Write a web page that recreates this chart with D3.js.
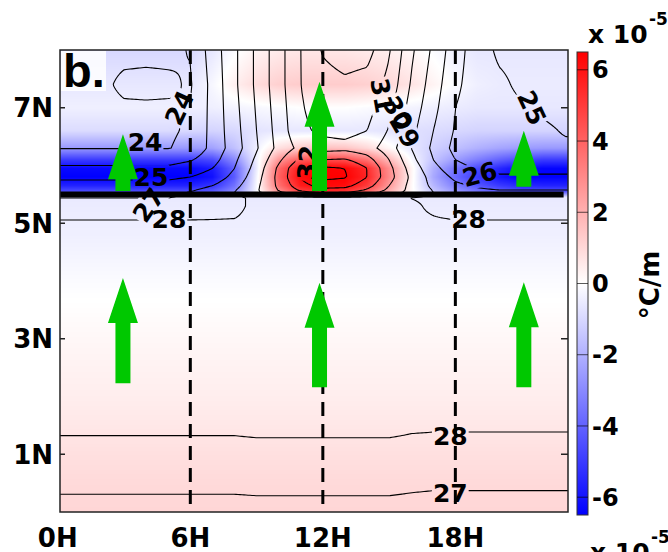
<!DOCTYPE html>
<html>
<head>
<meta charset="utf-8">
<script src="https://cdn.jsdelivr.net/npm/d3@7"></script>
<style>
  body { margin: 0; background: #fff; }
  svg { display: block; }
  text { font-family: "DejaVu Sans", sans-serif; font-weight: bold; fill: #000; }
</style>
</head>
<body>
<svg id="chart" width="668" height="552"></svg>
<script>
// grid: hour columns, latitude rows (north to south)
var hours = [0,1,2,3,4,5,6,7,8,9,10,11,12,13,14,15,16,17,18,19,20,21,22,23];
var lats = [8.0, 7.4, 7.0, 6.6, 6.3, 6.1, 5.95, 5.8, 5.65, 5.55, 5.45, 5.3, 5.1, 4.8, 4.4, 4.0, 3.0, 2.0, 1.5, 1.0, 0.5, 0.0];

// temperature (contours), degC
var sstRows = [
  [23.8,23.8,23.8,23.8,23.8,23.8,24.05,25.45,26.8,28.2,29.6,31.0,32.1,32.5,32.4,31.1,29.2,27.8,26.4,25.5,24.8,24.7,24.7,24.7],
  [23.8,23.8,23.85,24.15,24.2,24.15,23.9,25.3,26.8,28.2,29.6,31.0,31.6,31.8,31.6,30.7,28.9,27.5,26.2,25.5,25.2,24.8,24.7,24.7],
  [23.8,23.8,23.8,23.9,23.9,23.9,24.02,25.3,26.7,28.1,29.5,30.9,31.5,31.6,31.4,30.3,28.6,27.3,26.0,25.5,25.3,25.1,24.9,24.8],
  [23.8,23.8,23.8,23.85,23.85,23.9,24.1,25.3,26.6,28.0,29.4,30.8,31.2,31.3,31.0,29.9,28.3,27.0,25.9,25.4,25.3,25.2,25.1,24.95],
  [23.97,23.97,23.97,23.97,23.97,23.97,24.2,25.3,26.5,27.9,29.3,30.3,30.6,30.7,30.4,29.5,28.0,26.8,25.7,25.3,25.2,25.15,25.1,25.1],
  [24.6,24.6,24.6,24.6,24.6,24.6,24.9,25.6,26.8,28.2,29.8,31.2,32.0,32.1,31.4,30.0,28.3,27.0,26.0,25.5,25.4,25.4,25.4,25.4],
  [25.2,25.2,25.2,25.2,25.2,25.2,25.5,26.0,27.0,28.4,30.2,32.0,33.2,33.0,32.0,30.3,28.6,27.3,26.4,25.9,25.8,25.8,25.8,25.8],
  [25.8,25.8,25.8,25.8,25.8,25.8,26.0,26.4,27.3,28.6,30.3,32.1,33.3,33.1,32.0,30.4,28.8,27.6,26.8,26.3,26.1,26.1,26.1,26.1],
  [26.4,26.4,26.4,26.4,26.4,26.4,26.6,27.0,27.7,28.8,30.2,31.6,32.4,32.3,31.4,30.0,28.7,27.8,27.2,26.9,26.7,26.7,26.7,26.7],
  [26.9,26.9,26.9,26.9,26.9,26.9,27.0,27.4,28.0,28.9,30.0,31.0,31.5,31.4,30.7,29.7,28.7,28.0,27.5,27.2,27.1,27.1,27.1,27.1],
  [26.95,26.95,26.95,26.95,26.95,26.95,27.1,27.4,27.8,28.2,28.5,28.7,28.8,28.8,28.7,28.5,27.98,27.9,27.6,27.4,27.3,27.3,27.3,27.3],
  [27.5,27.5,27.5,27.5,27.5,27.5,27.55,27.65,27.8,28.2,28.4,28.5,28.5,28.5,28.5,28.4,28.1,27.9,27.6,27.55,27.5,27.5,27.5,27.5],
  [27.95,27.95,27.95,27.95,27.95,27.95,27.95,27.96,27.98,28.2,28.3,28.35,28.35,28.35,28.35,28.3,28.1,28.02,27.95,27.95,27.95,27.95,27.95,27.95],
  [28.3,28.3,28.3,28.3,28.3,28.3,28.3,28.3,28.3,28.3,28.3,28.3,28.3,28.3,28.3,28.3,28.3,28.3,28.3,28.3,28.3,28.3,28.3,28.3],
  [28.4,28.4,28.4,28.4,28.4,28.4,28.4,28.4,28.4,28.4,28.4,28.4,28.4,28.4,28.4,28.4,28.4,28.4,28.4,28.4,28.4,28.4,28.4,28.4],
  [28.4,28.4,28.4,28.4,28.4,28.4,28.4,28.4,28.4,28.4,28.4,28.4,28.4,28.4,28.4,28.4,28.4,28.4,28.4,28.4,28.4,28.4,28.4,28.4],
  [28.4,28.4,28.4,28.4,28.4,28.4,28.4,28.4,28.4,28.4,28.4,28.4,28.4,28.4,28.4,28.4,28.4,28.4,28.4,28.4,28.4,28.4,28.4,28.4],
  [28.3,28.3,28.3,28.3,28.3,28.3,28.3,28.3,28.3,28.3,28.3,28.3,28.3,28.3,28.3,28.3,28.3,28.3,28.3,28.3,28.3,28.3,28.3,28.3],
  [28.11,28.11,28.11,28.11,28.11,28.11,28.11,28.11,28.11,28.15,28.15,28.15,28.15,28.15,28.15,28.15,28.08,28.06,28.06,28.06,28.06,28.06,28.06,28.06],
  [27.8,27.8,27.8,27.8,27.8,27.8,27.8,27.8,27.8,27.8,27.8,27.8,27.8,27.8,27.8,27.8,27.8,27.8,27.8,27.8,27.8,27.8,27.8,27.8],
  [27.25,27.25,27.25,27.25,27.25,27.25,27.25,27.25,27.25,27.31,27.31,27.31,27.31,27.31,27.31,27.31,27.2,27.14,27.14,27.14,27.14,27.14,27.14,27.14],
  [26.6,26.6,26.6,26.6,26.6,26.6,26.6,26.6,26.6,26.6,26.6,26.6,26.6,26.6,26.6,26.6,26.6,26.6,26.6,26.6,26.6,26.6,26.6,26.6]
];

// temperature gradient (shading), x 1e-5 degC/m
var gradRows = [
  [-1.0,-1.0,-1.0,-1.0,-1.0,-1.0,-1.0,-0.6,-0.1,0.3,0.5,0.6,0.6,0.6,0.5,0.4,0.2,-0.1,-0.4,-0.6,-0.6,-0.6,-0.6,-0.6],
  [-0.6,-0.6,-0.6,-0.6,-0.6,-0.6,-0.6,-0.2,0.4,0.9,1.2,1.3,1.3,1.3,1.2,1.0,0.7,0.3,-0.1,-0.4,-0.5,-0.5,-0.5,-0.5],
  [-0.4,-0.4,-0.4,-0.4,-0.4,-0.4,-0.4,-0.4,-0.3,-0.2,-0.1,0.0,0.0,0.0,-0.1,-0.2,-0.3,-0.4,-0.5,-0.6,-0.6,-0.6,-0.6,-0.6],
  [-0.9,-0.9,-0.9,-0.9,-0.9,-0.9,-1.0,-1.1,-1.0,-0.7,-0.6,-0.6,-0.6,-0.6,-0.6,-0.7,-0.8,-0.9,-1.0,-1.1,-1.1,-1.1,-1.1,-1.1],
  [-2.6,-2.6,-2.6,-2.6,-2.6,-2.6,-2.6,-2.4,-1.6,-0.4,0.8,1.3,1.6,1.5,1.0,0.2,-0.6,-1.2,-1.6,-2.0,-2.3,-2.5,-2.6,-2.6],
  [-5.0,-5.0,-5.0,-5.0,-5.0,-5.0,-5.0,-4.6,-3.0,-0.4,2.6,4.2,4.6,4.5,3.6,1.8,-0.1,-1.5,-2.5,-3.3,-4.0,-4.6,-5.0,-5.0],
  [-6.3,-6.3,-6.3,-6.3,-6.3,-6.3,-6.3,-5.8,-4.0,-0.5,3.8,5.9,6.5,6.4,5.4,2.9,0.3,-2.0,-3.5,-4.6,-5.5,-6.2,-6.4,-6.4],
  [-6.5,-6.5,-6.5,-6.5,-6.5,-6.5,-6.5,-6.1,-4.2,-0.3,4.0,6.2,6.5,6.5,5.6,3.0,0.3,-2.2,-3.8,-5.0,-6.0,-6.5,-6.5,-6.5],
  [-5.6,-5.6,-5.6,-5.6,-5.6,-5.6,-5.6,-5.2,-3.6,-0.2,3.6,5.8,6.3,6.2,5.0,2.6,0.2,-1.8,-3.2,-4.3,-5.0,-5.5,-5.6,-5.6],
  [-4.5,-4.5,-4.5,-4.5,-4.5,-4.5,-4.5,-4.2,-3.0,-0.2,2.8,4.8,5.4,5.2,4.0,2.0,0.2,-1.4,-2.6,-3.5,-4.1,-4.5,-4.5,-4.5],
  [-0.55,-0.55,-0.55,-0.55,-0.55,-0.55,-0.55,-0.55,-0.55,-0.55,-0.55,-0.55,-0.55,-0.55,-0.55,-0.55,-0.55,-0.55,-0.55,-0.55,-0.55,-0.55,-0.55,-0.55],
  [-0.5,-0.5,-0.5,-0.5,-0.5,-0.5,-0.5,-0.5,-0.5,-0.5,-0.5,-0.5,-0.5,-0.5,-0.5,-0.5,-0.5,-0.5,-0.5,-0.5,-0.5,-0.5,-0.5,-0.5],
  [-0.45,-0.45,-0.45,-0.45,-0.45,-0.45,-0.45,-0.45,-0.45,-0.45,-0.45,-0.45,-0.45,-0.45,-0.45,-0.45,-0.45,-0.45,-0.45,-0.45,-0.45,-0.45,-0.45,-0.45],
  [-0.4,-0.4,-0.4,-0.4,-0.4,-0.4,-0.4,-0.4,-0.4,-0.4,-0.4,-0.4,-0.4,-0.4,-0.4,-0.4,-0.4,-0.4,-0.4,-0.4,-0.4,-0.4,-0.4,-0.4],
  [-0.25,-0.25,-0.25,-0.25,-0.25,-0.25,-0.25,-0.25,-0.25,-0.25,-0.25,-0.25,-0.25,-0.25,-0.25,-0.25,-0.25,-0.25,-0.25,-0.25,-0.25,-0.25,-0.25,-0.25],
  [-0.1,-0.1,-0.1,-0.1,-0.1,-0.1,-0.1,-0.1,-0.1,-0.1,-0.1,-0.1,-0.1,-0.1,-0.1,-0.1,-0.1,-0.1,-0.1,-0.1,-0.1,-0.1,-0.1,-0.1],
  [0.2,0.2,0.2,0.2,0.2,0.2,0.2,0.2,0.2,0.2,0.2,0.2,0.2,0.2,0.2,0.2,0.2,0.2,0.2,0.2,0.2,0.2,0.2,0.2],
  [0.45,0.45,0.45,0.45,0.45,0.45,0.45,0.45,0.45,0.45,0.45,0.45,0.45,0.45,0.45,0.45,0.45,0.45,0.45,0.45,0.45,0.45,0.45,0.45],
  [0.6,0.6,0.6,0.6,0.6,0.6,0.6,0.6,0.6,0.6,0.6,0.6,0.6,0.6,0.6,0.6,0.6,0.6,0.6,0.6,0.6,0.6,0.6,0.6],
  [0.8,0.8,0.8,0.8,0.8,0.8,0.8,0.8,0.8,0.8,0.8,0.8,0.8,0.8,0.8,0.8,0.8,0.8,0.8,0.8,0.8,0.8,0.8,0.8],
  [0.95,0.95,0.95,0.95,0.95,0.95,0.95,0.95,0.95,0.95,0.95,0.95,0.95,0.95,0.95,0.95,0.95,0.95,0.95,0.95,0.95,0.95,0.95,0.95],
  [1.05,1.05,1.05,1.05,1.05,1.05,1.05,1.05,1.05,1.05,1.05,1.05,1.05,1.05,1.05,1.05,1.05,1.05,1.05,1.05,1.05,1.05,1.05,1.05]
];

var hourExtent = [0.1, 23.1];
var hourTicks = [0, 6, 12, 18];
var hourLabels = ['0H', '6H', '12H', '18H'];
var latTicks = [7, 5, 3, 1];
var latLabels = ['7N', '5N', '3N', '1N'];
var cbTicks = [6, 4, 2, 0, -2, -4, -6];
var dashHours = [6, 12, 18];
var coastLat = 5.5;
var coastHours = [0.1, 22.9];
var contourLevels = [24, 25, 26, 27, 28, 29, 30, 31, 32, 33];

// arrows (hour, base lat, length in deg)
var arrowHours = [2.95, 11.85, 21.1];
var upperBase = [5.56, 5.56, 5.63];
var upperLen = [0.98, 1.89, 0.97];
var lowerBase = [2.23, 2.16, 2.16];
var lowerLen = [1.82, 1.81, 1.82];

var contourLabels = [
  {t: '24', h: 5.5, lat: 7.0, r: -65},
  {t: '24', h: 3.95, lat: 6.41, r: 0},
  {t: '25', h: 4.22, lat: 5.8, r: 0},
  {t: '27', h: 4.1, lat: 5.32, r: -55},
  {t: '28', h: 5.03, lat: 5.07, r: 0},
  {t: '32', h: 11.3, lat: 6.05, r: -85},
  {t: '31', h: 14.68, lat: 7.21, r: 80},
  {t: '30', h: 15.4, lat: 6.91, r: 60},
  {t: '29', h: 15.72, lat: 6.6, r: 60},
  {t: '25', h: 21.47, lat: 7.0, r: 65},
  {t: '26', h: 19.1, lat: 5.85, r: -15},
  {t: '28', h: 18.6, lat: 5.07, r: 0},
  {t: '28', h: 17.77, lat: 1.32, r: 0},
  {t: '27', h: 17.77, lat: 0.33, r: 0}
];

var svg = d3.select('#chart');
var x0 = 60, x1 = 568, y0 = 50, y1 = 512;
var x = d3.scaleLinear().domain(hourExtent).range([x0, x1]);
var y = d3.scaleLinear().domain([0, 8]).range([y1, y0]);
var color = d3.scaleLinear().domain([-6.5, 0, 6.5]).range(['#0000ff', '#ffffff', '#ff0000']).clamp(true);

function locate(arr, v) {
  var i = d3.bisectRight(arr, v) - 1;
  i = Math.max(0, Math.min(arr.length - 2, i));
  var t = (v - arr[i]) / (arr[i + 1] - arr[i]);
  return [i, Math.max(0, Math.min(1, t))];
}
function sampler(rows) {
  var asc = lats.map(function(d, k) { return {lat: d, row: rows[k]}; }).reverse();
  var la = asc.map(function(d) { return d.lat; });
  return function(h, lat) {
    var a = locate(hours, h), b = locate(la, lat);
    var r0 = asc[b[0]].row, r1 = asc[b[0] + 1].row;
    var v0 = r0[a[0]] * (1 - a[1]) + r0[a[0] + 1] * a[1];
    var v1 = r1[a[0]] * (1 - a[1]) + r1[a[0] + 1] * a[1];
    return v0 * (1 - b[1]) + v1 * b[1];
  };
}
var gradAt = sampler(gradRows);
var sstAt = sampler(sstRows);

var defs = svg.append('defs');
defs.append('clipPath').attr('id', 'plotclip')
  .append('rect').attr('x', x0).attr('y', y0).attr('width', x1 - x0).attr('height', y1 - y0);

// shading
var W = x1 - x0, H = y1 - y0;
var cv = document.createElement('canvas');
cv.width = W; cv.height = H;
var ctx = cv.getContext('2d');
var img = ctx.createImageData(W, H);
for (var py = 0; py < H; py++) {
  var lat = y.invert(y0 + py + 0.5);
  for (var px = 0; px < W; px++) {
    var c = d3.rgb(color(gradAt(x.invert(x0 + px + 0.5), lat)));
    var k = (py * W + px) * 4;
    img.data[k] = c.r; img.data[k + 1] = c.g; img.data[k + 2] = c.b; img.data[k + 3] = 255;
  }
}
ctx.putImageData(img, 0, 0);
svg.append('image').attr('x', x0).attr('y', y0).attr('width', W).attr('height', H)
  .attr('href', cv.toDataURL());

// contour labels first (to build the gap mask)
var mask = defs.append('mask').attr('id', 'lblmask').attr('maskUnits', 'userSpaceOnUse')
  .attr('x', 0).attr('y', 0).attr('width', 668).attr('height', 552);
mask.append('rect').attr('width', 668).attr('height', 552).attr('fill', '#fff');

var labelG = svg.append('g');
var contourG = svg.insert('g', function() { return labelG.node(); }).attr('clip-path', 'url(#plotclip)')
  .append('g').attr('mask', 'url(#lblmask)');

contourLabels.forEach(function(d) {
  var tr = 'translate(' + x(d.h) + ',' + y(d.lat) + ') rotate(' + d.r + ')';
  var t = labelG.append('text').attr('transform', tr)
    .attr('text-anchor', 'middle').attr('dy', '0.36em')
    .style('font-size', '25px').text(d.t);
  var bb = t.node().getBBox();
  mask.append('rect').attr('transform', tr)
    .attr('x', bb.x - 1).attr('y', bb.y + 2).attr('width', bb.width + 2).attr('height', bb.height - 4)
    .attr('fill', '#000');
});

// contours
var nx = 255, ny = 232, step = 2;
var vals = new Array(nx * ny);
for (var j = 0; j < ny; j++) {
  for (var i = 0; i < nx; i++) {
    vals[j * nx + i] = sstAt(x.invert(x0 + i * step), y.invert(y0 + j * step));
  }
}
var cons = d3.contours().size([nx, ny]).thresholds(contourLevels)(vals);
var proj = d3.geoTransform({point: function(px, py) {
  this.stream.point(x0 + (px - 0.5) * step, y0 + (py - 0.5) * step);
}});
contourG.selectAll('path').data(cons).join('path')
  .attr('d', d3.geoPath(proj))
  .attr('fill', 'none').attr('stroke', '#000').attr('stroke-width', 1.1);

// dashed hour lines
svg.append('g').selectAll('line').data(dashHours).join('line')
  .attr('x1', function(d) { return x(d); }).attr('x2', function(d) { return x(d); })
  .attr('y1', y0).attr('y2', y1)
  .attr('stroke', '#000').attr('stroke-width', 3).attr('stroke-dasharray', '14,8');

// coastline
svg.append('line')
  .attr('x1', x(coastHours[0])).attr('x2', x(coastHours[1]))
  .attr('y1', y(coastLat)).attr('y2', y(coastLat))
  .attr('stroke', '#000').attr('stroke-width', 6);

// arrows
function arrowPath(h, lat0, len) {
  var cx = x(h), yb = y(lat0), yt = y(lat0 + len);
  var hl = 45, hw = 15, sw = 7.5;
  return 'M' + (cx - sw) + ',' + yb + 'L' + (cx - sw) + ',' + (yt + hl) + 'L' + (cx - hw) + ',' + (yt + hl) +
    'L' + cx + ',' + yt + 'L' + (cx + hw) + ',' + (yt + hl) + 'L' + (cx + sw) + ',' + (yt + hl) +
    'L' + (cx + sw) + ',' + yb + 'Z';
}
var arrows = [];
arrowHours.forEach(function(h, k) {
  arrows.push({h: h, b: upperBase[k], l: upperLen[k]});
  arrows.push({h: h, b: lowerBase[k], l: lowerLen[k]});
});
svg.append('g').selectAll('path').data(arrows).join('path')
  .attr('d', function(d) { return arrowPath(d.h, d.b, d.l); })
  .attr('fill', '#00c800');

// panel letter
svg.append('rect').attr('x', x0 + 1).attr('y', y0 + 1).attr('width', 45).attr('height', 40)
  .attr('fill', '#fff').attr('opacity', 0.85);
svg.append('text').attr('x', 63).attr('y', 87)
  .style('font-family', '"Liberation Sans", Arial, sans-serif').style('font-size', '47px').text('b.');

// frame and ticks
svg.append('rect').attr('x', x0).attr('y', y0).attr('width', x1 - x0).attr('height', y1 - y0)
  .attr('fill', 'none').attr('stroke', '#222').attr('stroke-width', 1.5);
var tk = svg.append('g').attr('stroke', '#222').attr('stroke-width', 1.5);
latTicks.forEach(function(d) {
  tk.append('line').attr('x1', x0).attr('x2', x0 + 5).attr('y1', y(d)).attr('y2', y(d));
  tk.append('line').attr('x1', x1 - 7).attr('x2', x1).attr('y1', y(d)).attr('y2', y(d));
});

// axis labels
svg.append('g').selectAll('text').data(latTicks).join('text')
  .attr('x', 53).attr('y', function(d) { return y(d); }).attr('dy', '0.36em')
  .attr('text-anchor', 'end').style('font-size', '26px')
  .text(function(d, k) { return latLabels[k]; });
svg.append('g').selectAll('text').data(hourTicks).join('text')
  .attr('x', function(d) { return x(d); }).attr('y', 547)
  .attr('text-anchor', 'middle').style('font-size', '26px')
  .text(function(d, k) { return hourLabels[k]; });

// colorbar
var cbX = 577, cbW = 11;
var cbY = d3.scaleLinear().domain([-6.5, 6.5]).range([515, 52]);
var grad = defs.append('linearGradient').attr('id', 'cbgrad')
  .attr('x1', 0).attr('x2', 0).attr('y1', 0).attr('y2', 1);
[6.5, 0, -6.5].forEach(function(v, k) {
  grad.append('stop').attr('offset', k / 2).attr('stop-color', color(v));
});
svg.append('rect').attr('x', cbX).attr('y', cbY(6.5)).attr('width', cbW).attr('height', cbY(-6.5) - cbY(6.5))
  .attr('fill', 'url(#cbgrad)').attr('stroke', '#333').attr('stroke-width', 1);
svg.append('g').selectAll('line').data(cbTicks).join('line')
  .attr('x1', cbX).attr('x2', cbX + cbW)
  .attr('y1', function(d) { return cbY(d); }).attr('y2', function(d) { return cbY(d); })
  .attr('stroke', '#000').attr('stroke-opacity', 0.65).attr('stroke-width', 1);
svg.append('g').selectAll('text').data(cbTicks).join('text')
  .attr('x', 592).attr('y', function(d) { return cbY(d); }).attr('dy', '0.36em')
  .style('font-size', '24px')
  .text(function(d) { return d < 0 ? '-' + Math.abs(d) : String(d); });

// units
svg.append('text').attr('x', 588).attr('y', 43).style('font-size', '25px').text('x 10');
svg.append('text').attr('x', 649).attr('y', 25).style('font-size', '17px').text('-5');
svg.append('text').attr('x', 590).attr('y', 561).style('font-size', '25px').text('x 10');
svg.append('text').attr('x', 651).attr('y', 543).style('font-size', '17px').text('-5');
svg.append('text').attr('transform', 'translate(650,285) rotate(-90)')
  .attr('text-anchor', 'middle').attr('dy', '0.36em').style('font-size', '26px').text('°C/m');
</script>
</body>
</html>
